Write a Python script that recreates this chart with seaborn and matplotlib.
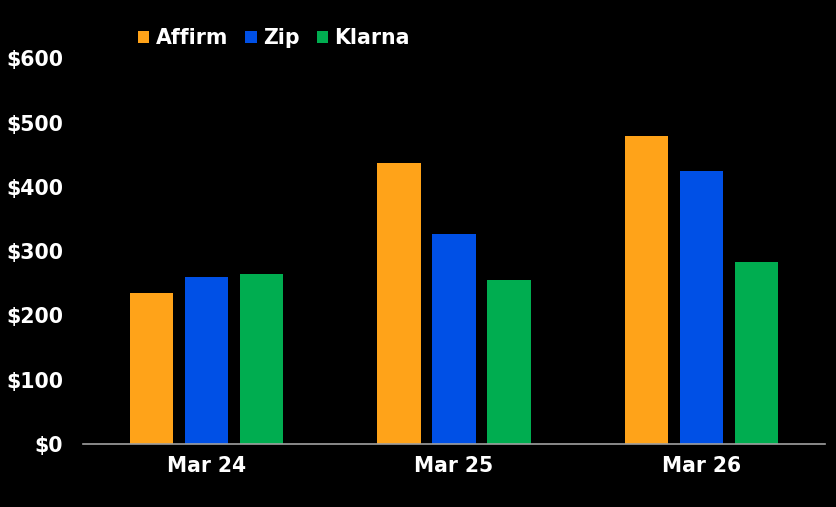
import matplotlib
matplotlib.use("Agg")
import matplotlib.pyplot as plt
import seaborn as sns
import pandas as pd

dates = ["Mar 24", "Mar 25", "Mar 26"]
providers = ["Affirm", "Zip", "Klarna"]
affirm = [235, 438, 479]
zip_vals = [260, 327, 425]
klarna = [265, 255, 283]
yticks = [0, 100, 200, 300, 400, 500, 600]
ytick_labels = ["$0", "$100", "$200", "$300", "$400", "$500", "$600"]
colors = ["#FFA319", "#0050E6", "#00AD50"]

rows = []
for series, name in zip([affirm, zip_vals, klarna], providers):
    for d, v in zip(dates, series):
        rows.append({"date": d, "provider": name, "value": v})
df = pd.DataFrame(rows)

sns.set_style("dark")
plt.rcParams["font.family"] = ["DejaVu Sans"]
plt.rcParams["font.weight"] = "bold"

fig = plt.figure(figsize=(8.37, 5.07), dpi=100, facecolor="black")
W, H = 837, 507
ax = fig.add_axes([83 / W, (H - 444) / H, (825 - 83) / W, (444 - 58.5) / H])
ax.set_facecolor("black")

sns.barplot(data=df, x="date", y="value", hue="provider", order=dates,
            hue_order=providers, palette=colors, width=0.667, gap=0.216,
            saturation=1, edgecolor="none", linewidth=0, ax=ax, legend=True)

handles, labels = ax.get_legend_handles_labels()
ax.get_legend().remove()
fig.legend(handles, labels, loc="center left", bbox_to_anchor=(138 / W, (H - 38) / H),
           ncol=3, frameon=False, handlelength=0.55, handleheight=0.55,
           handletextpad=0.3, columnspacing=0.85, borderpad=0, borderaxespad=0,
           prop={"weight": "bold", "size": 14.8}, labelcolor="white")

ax.set_xlim(-0.5, 2.5)
ax.set_ylim(0, 600)
ax.set_yticks(yticks)
ax.set_yticklabels(ytick_labels)
ax.grid(False)
for s in ["top", "right", "left"]:
    ax.spines[s].set_visible(False)
ax.spines["bottom"].set_color("#A0A0A0")
ax.spines["bottom"].set_linewidth(1.2)
ax.tick_params(axis="y", length=0, pad=14.4, colors="white", labelsize=14.8)
ax.tick_params(axis="x", length=0, pad=9, colors="white")
for lab in ax.get_yticklabels():
    lab.set_fontweight("bold")
for lab in ax.get_xticklabels():
    lab.set_fontweight("bold")
    lab.set_fontsize(16.2)
    lab.set_fontstretch("condensed")
ax.set_xlabel("")
ax.set_ylabel("")

fig.savefig("out.png", dpi=100, facecolor="black")
